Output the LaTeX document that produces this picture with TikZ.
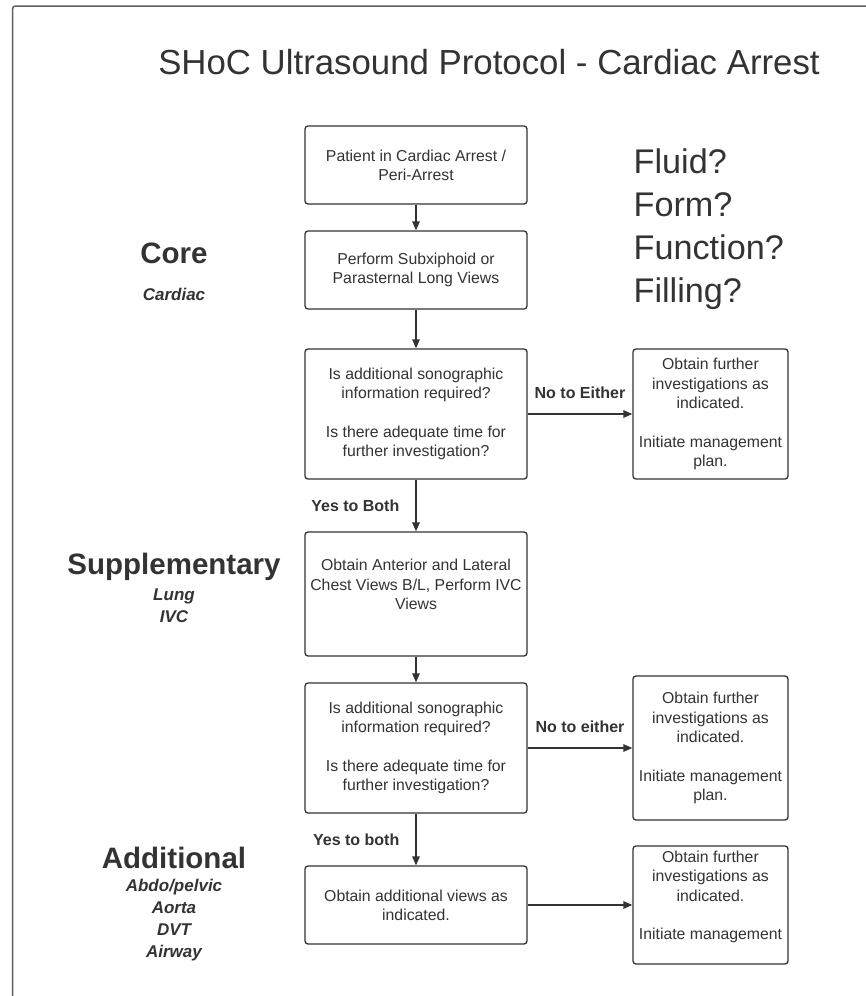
\documentclass[tikz,border=0pt]{standalone}
\usepackage{fontspec}
\setmainfont{Liberation Sans}
\usetikzlibrary{arrows.meta,positioning}
\definecolor{ink}{RGB}{51,51,51}
\definecolor{rim}{RGB}{95,95,95}

\begin{document}
\begin{tikzpicture}[x=1pt,y=-1pt,->,>={Triangle[length=9pt,width=7.5pt]},auto,
  line width=1.3pt,color=ink,
  main node/.style={rectangle,rounded corners=3pt,draw=ink,fill=white,align=center,inner sep=0pt,minimum width=222pt,font=\fontsize{15.8}{19.3}\selectfont},
  side node/.style={main node,minimum width=155pt},
  side label/.style={font=\bfseries\fontsize{16}{19.3}\selectfont,inner sep=0pt},
  head/.style={font=\bfseries\fontsize{29.5}{34}\selectfont,inner sep=0pt},
  sub/.style={font=\bfseries\itshape\fontsize{17}{22}\selectfont,inner sep=0pt,align=center}]

  \useasboundingbox (0,0) rectangle (865,996);
  \draw[-,rim,line width=1.5pt,rounded corners=3pt] (12.5,6) rectangle (880,1010);

  \node[inner sep=0pt,font=\fontsize{34.8}{40}\selectfont] (title) at (489,62) {SHoC Ultrasound Protocol - Cardiac Arrest};
  \node[inner sep=0pt,align=left,anchor=west,font=\fontsize{34.2}{43}\selectfont] (ffff) at (633,229) {Fluid?\\Form?\\Function?\\Filling?};

  \node[head] (core) at (174,253) {Core};
  \node[sub] (cardiac) at (174,294) {Cardiac};
  \node[head] (supp) at (174,567) {Supplementary};
  \node[sub] (lung) at (174,606) {Lung\\IVC};
  \node[head] (additional) at (174,858) {Additional};
  \node[sub] (extra) at (174,920) {Abdo/pelvic\\Aorta\\DVT\\Airway};

  \node[main node,minimum height=78pt] (1) at (416,165) {Patient in Cardiac Arrest /\\Peri-Arrest};
  \node[main node,minimum height=78pt] (2) [below=25.7pt of 1] {Perform Subxiphoid or\\Parasternal Long Views};
  \node[main node,minimum height=130pt] (3) [below=38.7pt of 2] {Is additional sonographic\\information required?\\[19.3pt]Is there adequate time for\\further investigation?};
  \node[main node,minimum height=124pt] (4) [below=51.7pt of 3] {Obtain Anterior and Lateral\\Chest Views B/L, Perform IVC\\Views\\{}};
  \node[main node,minimum height=130pt] (5) [below=25.7pt of 4] {Is additional sonographic\\information required?\\[19.3pt]Is there adequate time for\\further investigation?};
  \node[main node,minimum height=78pt] (6) [below=51.7pt of 5] {Obtain additional views as\\indicated.};
  \node[side node,minimum height=130pt] (7) [right=104.7pt of 3] {Obtain further\\investigations as\\indicated.\\[19.3pt]Initiate management\\plan.};
  \node[side node,minimum height=144pt] (8) [right=104.7pt of 5] {Obtain further\\investigations as\\indicated.\\[19.3pt]Initiate management\\plan.};
  \node[side node,minimum height=118pt] (9) [right=104.7pt of 6] {Obtain further\\investigations as\\indicated.\\[19.3pt]Initiate management\\{}};

  \path
    (1) edge (2)
    (2) edge (3)
    (3) edge node[side label,left=16pt] {Yes to Both} (4)
        edge node[side label,above=15pt] {No to Either} (7)
    (4) edge (5)
    (5) edge node[side label,left=16pt] {Yes to both} (6)
        edge node[side label,above=15pt] {No to either} (8)
    (6) edge (9);

\end{tikzpicture}
\end{document}
